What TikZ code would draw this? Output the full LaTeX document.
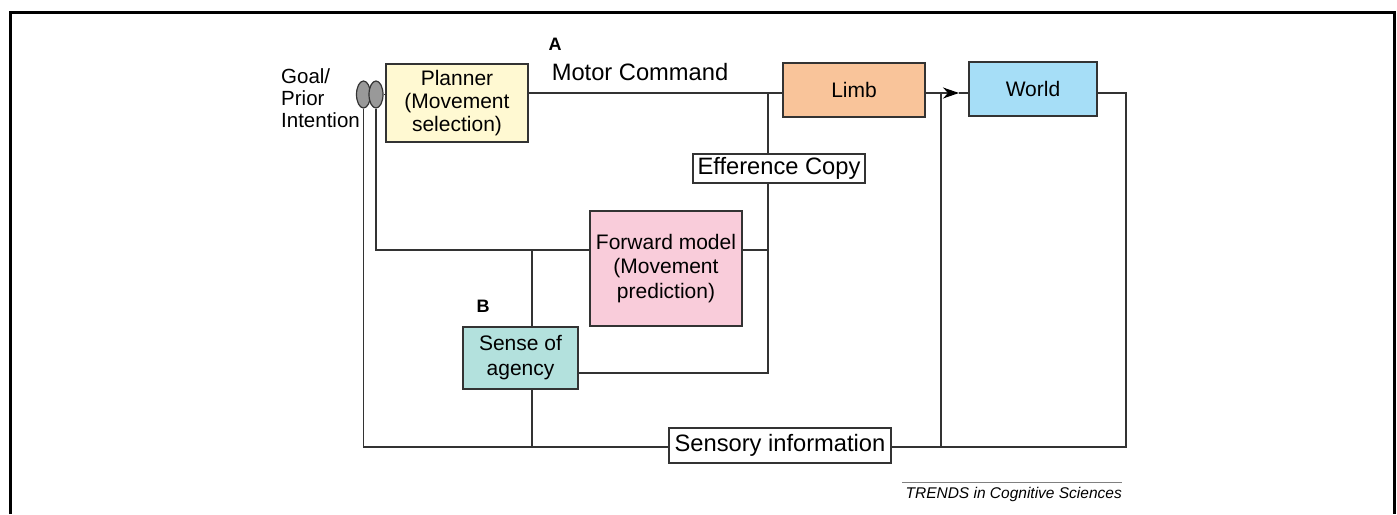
\documentclass[tikz,border=0pt]{standalone}
\usepackage{fontspec}
\setmainfont{Liberation Sans}
\usetikzlibrary{arrows.meta,shapes.geometric,backgrounds}
\definecolor{lineC}{HTML}{333333}
\definecolor{plannerC}{HTML}{FFF9D2}
\definecolor{limbC}{HTML}{F9C49A}
\definecolor{worldC}{HTML}{A6DEF7}
\definecolor{fwdC}{HTML}{F9CCDA}
\definecolor{agC}{HTML}{B3E1DD}
\definecolor{ellC}{HTML}{999999}
\begin{document}
\begin{tikzpicture}[x=1pt,y=-1pt,
  box/.style={draw=lineC,line width=1.4pt,inner sep=0pt,align=center,font=\fontsize{21}{23}\selectfont},
  lbox/.style={draw=lineC,fill=white,line width=1.4pt,inner sep=0pt,align=center,font=\fontsize{23.7}{25}\selectfont},
  ell/.style={ellipse,draw=lineC,fill=ellC,line width=1.2pt,minimum width=14pt,minimum height=27pt,inner sep=0pt},
  conn/.style={draw=lineC,line width=1.4pt},
  lbl/.style={inner sep=0pt}]
\useasboundingbox (0,0) rectangle (1397,514);
\draw[line width=3pt] (10,514) -- (10,12) -- (1394,12) -- (1394,514);

% nodes
\node[box,fill=plannerC,minimum width=142pt,minimum height=78pt] (planner) at (457,103) {Planner\\(Movement\\selection)};
\node[box,fill=limbC,minimum width=142pt,minimum height=54pt] (limb) at (854,90) {Limb};
\node[box,fill=worldC,minimum width=128pt,minimum height=54pt] (world) at (1033,89) {World};
\node[lbox,minimum width=172pt,minimum height=29pt] (eff) at (779,168.5) {Efference Copy};
\node[box,fill=fwdC,minimum width=152pt,minimum height=115pt,font=\fontsize{21}{24.5}\selectfont] (fwd) at (666,268.5) {Forward model\\(Movement\\prediction)};
\node[box,fill=agC,minimum width=115pt,minimum height=62pt,font=\fontsize{21}{25}\selectfont] (agency) at (520.5,358) {Sense of\\agency};
\node[lbox,minimum width=222pt,minimum height=35pt] (sens) at (780,445.5) {Sensory information};
\node[ell] (e1) at (363.5,94.5) {};
\node[ell] (e2) at (376,94.5) {};

% labels
\node[lbl,align=left,anchor=west,font=\fontsize{20.5}{22}\selectfont] (goal) at (281,98) {Goal/\\Prior\\Intention};
\node[lbl,font=\bfseries\fontsize{18}{18}\selectfont] (A) at (555,44) {A};
\node[lbl,font=\fontsize{23.7}{24}\selectfont] (mc) at (640,72) {Motor Command};
\node[lbl,font=\bfseries\fontsize{18}{18}\selectfont] (B) at (483,306) {B};
\node[lbl,anchor=north east,font=\itshape\fontsize{15.5}{16}\selectfont] (trends) at (1122,487) {TRENDS in Cognitive Sciences};
\coordinate (t1) at (902,482);
\coordinate (t2) at (1122,482);
\draw[draw=gray,line width=0.9pt] (t1) -- (t2);

% junction coordinates
\coordinate (j1) at (768,93);
\coordinate (j2) at (768,250);
\coordinate (j3) at (768,373);
\coordinate (k1) at (941,93);
\coordinate (k2) at (941,447);
\coordinate (c1) at (1126,93);
\coordinate (c2) at (1126,447);
\coordinate (a1) at (532,250);
\coordinate (tip) at (959,93);

\begin{pgfonlayer}{background}
\draw[conn] (planner.east |- j1) -- (limb.west |- j1);
\draw[conn] (j1) -- (j3) -- (agency.east |- j3);
\draw[conn] (fwd.east |- j2) -- (j2);
\draw[conn,-{Stealth[length=16pt,width=11pt,inset=5pt,black]}] (limb.east |- j1) -- (tip);
\draw[conn] (tip) -- (world.west |- j1);
\draw[conn] (k1) -- (k2);
\draw[conn] (world.east |- c1) -- (c1) -- (c2) -- (sens.east |- c2);
\draw[conn] (sens.west |- k2) -- (e1.south |- k2) -- (e1.south);
\draw[conn] (e2.south) -- (e2.south |- j2) -- (fwd.west |- j2);
\draw[conn] (a1) -- (a1 |- agency.north);
\draw[conn] (a1 |- agency.south) -- (a1 |- k2);
\draw[conn] (e2.east) -- (planner.west |- e2.east);
\end{pgfonlayer}
\end{tikzpicture}
\end{document}
